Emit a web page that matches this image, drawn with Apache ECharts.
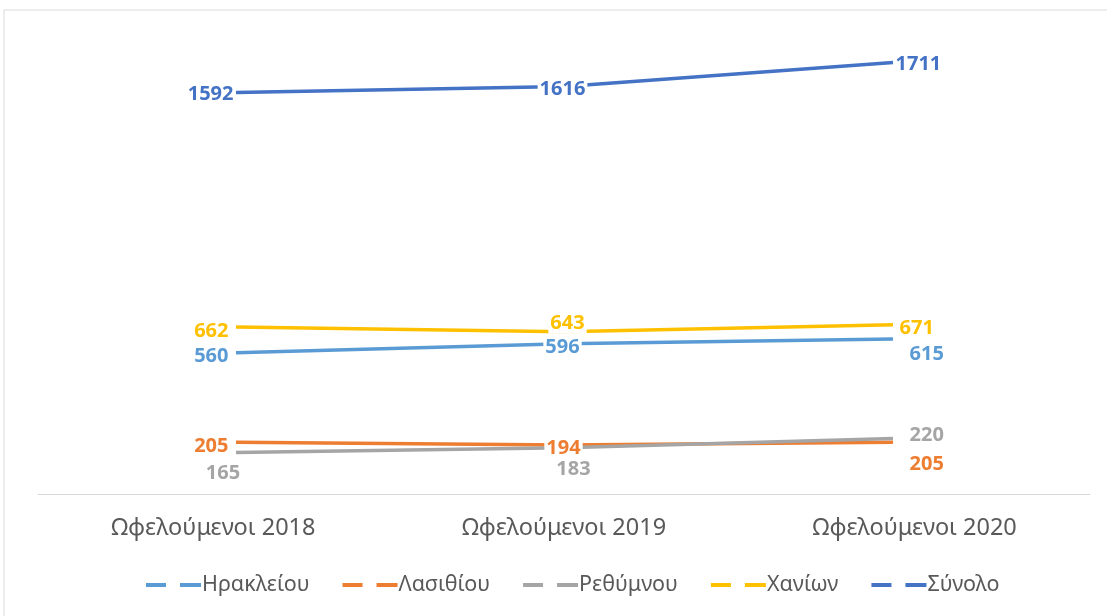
<!DOCTYPE html>
<html>
<head>
<meta charset="utf-8">
<script src="https://cdn.jsdelivr.net/npm/echarts@6/dist/echarts.min.js"></script>
<style>html,body{margin:0;padding:0;background:#fff}#c{width:1107px;height:616px}</style>
</head>
<body>
<div id="c"></div>
<script>
const categories = ['Ωφελούμενοι 2018', 'Ωφελούμενοι 2019', 'Ωφελούμενοι 2020'];
const seriesNames = ['Ηρακλείου', 'Λασιθίου', 'Ρεθύμνου', 'Χανίων', 'Σύνολο'];
const heraklion = [560, 596, 615];
const lasithi = [205, 194, 205];
const rethymno = [165, 183, 220];
const chania = [662, 643, 671];
const total = [1592, 1616, 1711];

const values = [heraklion, lasithi, rethymno, chania, total];
const colors = ['#5B9BD5', '#ED7D31', '#A5A5A5', '#FFC000', '#4472C4'];

// label placement per series per point (style only)
const labelCfg = [
  [{position:'left',distance:5,offset:[0,4]},{position:'inside',offset:[-2,4]},{position:'right',distance:14,offset:[0,15]}],
  [{position:'left',distance:5,offset:[0,4]},{position:'inside',offset:[-1,3]},{position:'right',distance:14,offset:[0,22]}],
  [{position:'bottom',distance:9,offset:[-13,0]},{position:'bottom',distance:10,offset:[9,0]},{position:'right',distance:14,offset:[0,-3]}],
  [{position:'left',distance:5,offset:[0,4]},{position:'inside',offset:[3,-9]},{position:'right',distance:4,offset:[0,4]}],
  [{position:'left',distance:0,offset:[0,2]},{position:'inside',offset:[-2,3]},{position:'right',distance:0,offset:[0,2]}]
];

const chart = echarts.init(document.getElementById('c'));
const series = [];
values.forEach((vals, i) => {
  series.push({
    name: seriesNames[i], type: 'line', xAxisIndex: 1, yAxisIndex: 1,
    data: vals, symbol: 'none', showSymbol: false, z: 2,
    lineStyle: {color: colors[i], width: 3.5}, itemStyle: {color: colors[i]},
    emphasis: {disabled: true}
  });
});
values.forEach((vals, i) => {
  series.push({
    name: seriesNames[i] + ' ', type: 'scatter', xAxisIndex: 1, yAxisIndex: 1, z: 10,
    symbolSize: 1, itemStyle: {color: 'rgba(255,255,255,0)'}, silent: true,
    emphasis: {disabled: true},
    data: vals.map((v, j) => ({value: v, label: Object.assign({}, labelCfg[i][j])})),
    label: {
      show: true, color: colors[i], opacity: 1, fontFamily: 'Noto Sans', fontWeight: 'bold', fontSize: 20,
      backgroundColor: '#fff', padding: [0, 2], lineHeight: 22, textBorderWidth: 0
    }
  });
});

chart.setOption({
  animation: false,
  backgroundColor: '#fff',
  graphic: [{type: 'rect', shape: {x: 4, y: 10, width: 1200, height: 800}, style: {fill: 'none', stroke: '#d9d9d9', lineWidth: 1}, silent: true}],
  grid: [
    {left: 38, right: 17, top: 40, bottom: 122},
    {left: 236, right: 214, top: 40, bottom: 122}
  ],
  xAxis: [
    {type: 'category', gridIndex: 0, data: categories, boundaryGap: true,
     axisLine: {lineStyle: {color: '#d9d9d9', width: 1}}, axisTick: {show: false},
     axisLabel: {color: '#595959', fontFamily: 'Noto Sans', fontSize: 23.5, margin: 22}},
    {type: 'category', gridIndex: 1, data: categories, boundaryGap: false, show: false}
  ],
  yAxis: [
    {type: 'value', gridIndex: 0, min: 0, max: 1800, show: false, splitLine: {show: false}},
    {type: 'value', gridIndex: 1, min: 0, max: 1800, show: false, splitLine: {show: false}}
  ],
  legend: {
    data: seriesNames, bottom: 15, left: 141, itemGap: 33, itemWidth: 55, itemHeight: 4,
    icon: 'path://M0,0h20v4H0z M34,0h21v4H34z',
    textStyle: {color: '#595959', fontFamily: 'Noto Sans', fontSize: 21.5, padding: [0,0,0,-4]}
  },
  series: series
});
</script>
</body>
</html>
